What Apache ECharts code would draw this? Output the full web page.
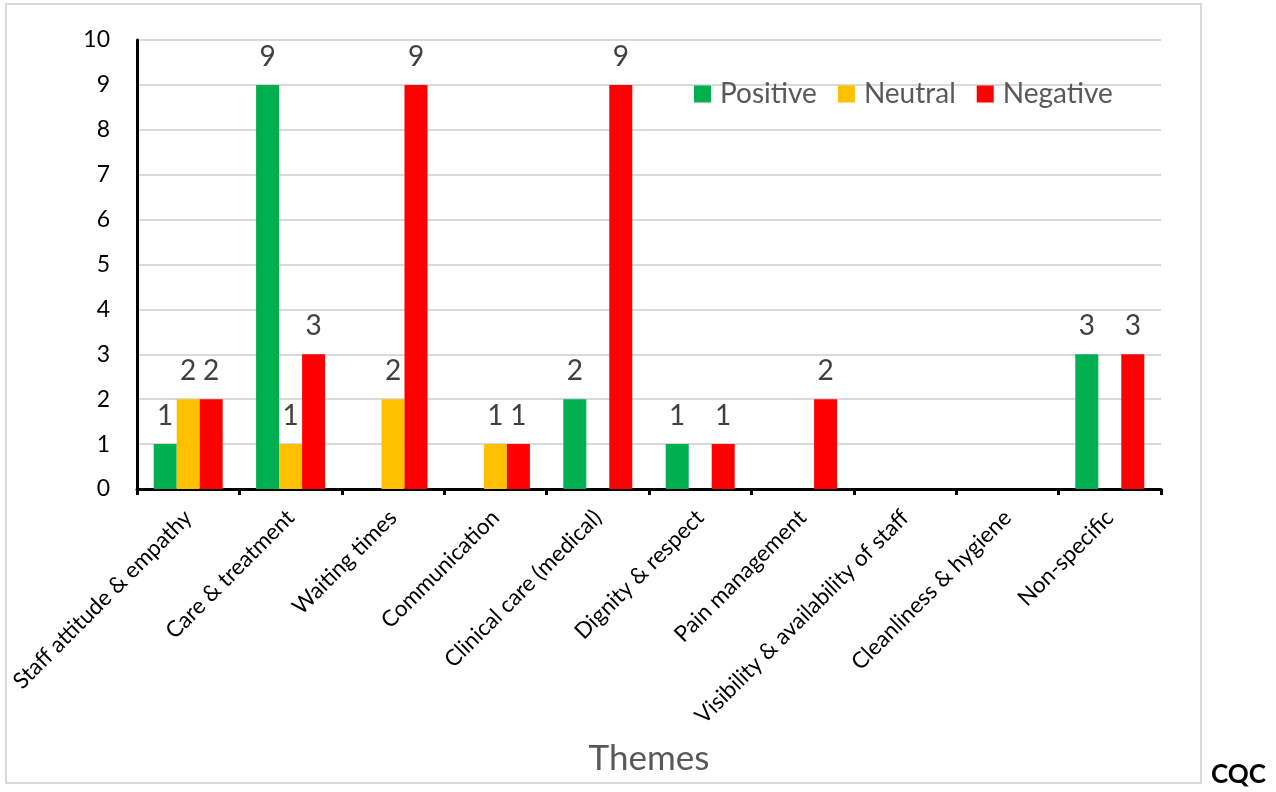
<!DOCTYPE html>
<html>
<head>
<meta charset="utf-8">
<title>Themes</title>
<script src="https://cdn.jsdelivr.net/npm/echarts@6/dist/echarts.min.js"></script>
<style>
  html, body { margin: 0; padding: 0; background: #fff; }
  #chart { width: 1276px; height: 792px; }
</style>
</head>
<body>
<div id="chart"></div>
<script>
// Theme categories and comment counts per sentiment
const categories = [
  'Staff attitude & empathy',
  'Care & treatment',
  'Waiting times',
  'Communication',
  'Clinical care (medical)',
  'Dignity & respect',
  'Pain management',
  'Visibility & availability of staff',
  'Cleanliness & hygiene',
  'Non-specific'
];
const positive = [1, 9, 0, 0, 2, 1, 0, 0, 0, 3];
const neutral  = [2, 1, 2, 1, 0, 0, 0, 0, 0, 0];
const negative = [2, 3, 9, 1, 9, 1, 2, 0, 0, 3];
const yTicks = [0, 1, 2, 3, 4, 5, 6, 7, 8, 9, 10];

const FONT = 'Lato, "Open Sans", sans-serif';

function barSeries(name, data, color) {
  return {
    name: name,
    type: 'bar',
    data: data,
    barWidth: 23,
    barGap: '0%',
    itemStyle: { color: color },
    label: {
      show: true,
      position: 'top',
      distance: 14,
      fontFamily: FONT,
      fontSize: 28,
      color: '#404040',
      formatter: p => (p.value > 0 ? String(p.value) : '')
    }
  };
}

const chart = echarts.init(document.getElementById('chart'), null, { renderer: 'canvas' });
chart.setOption({
  animation: false,
  backgroundColor: '#fff',
  textStyle: { fontFamily: FONT },
  grid: { left: 137, right: 115, top: 40, bottom: 303, containLabel: false },
  legend: {
    left: 689,
    top: 75,
    icon: 'rect',
    itemWidth: 17,
    itemHeight: 17,
    itemGap: 21,
    textStyle: { fontFamily: FONT, fontSize: 28, color: '#595959', padding: [0, 0, 0, 4] },
    data: ['Positive', 'Neutral', 'Negative']
  },
  xAxis: {
    type: 'category',
    data: categories,
    name: 'Themes',
    nameLocation: 'middle',
    nameGap: 252,
    nameTextStyle: { fontFamily: FONT, fontSize: 35, color: '#595959' },
    axisLine: { lineStyle: { color: '#000', width: 3 } },
    axisTick: { show: true, length: 6, lineStyle: { color: '#000', width: 3 } },
    axisLabel: {
      interval: 0,
      rotate: 45,
      margin: 25,
      fontFamily: FONT,
      fontSize: 22.5,
      color: '#000'
    }
  },
  yAxis: {
    type: 'value',
    min: yTicks[0],
    max: yTicks[yTicks.length - 1],
    interval: 1,
    axisLine: { show: true, lineStyle: { color: '#000', width: 3 } },
    axisTick: { show: false },
    axisLabel: {
      margin: 27,
      fontFamily: FONT,
      fontSize: 23,
      color: '#000',
      formatter: v => (yTicks.indexOf(v) >= 0 ? String(v) : '')
    },
    splitLine: { lineStyle: { color: '#d9d9d9', width: 2 } }
  },
  series: [
    barSeries('Positive', positive, '#00b050'),
    barSeries('Neutral', neutral, '#ffc000'),
    barSeries('Negative', negative, '#ff0000')
  ],
  graphic: [
    {
      type: 'rect',
      z: -1,
      shape: { x: 6, y: 4, width: 1195, height: 779 },
      style: { fill: 'none', stroke: '#d9d9d9', lineWidth: 2 }
    },
    {
      type: 'text',
      left: 1211,
      top: 762,
      style: { text: 'CQC', fontFamily: FONT, fontSize: 26, fontWeight: 'bold', fill: '#000' }
    }
  ]
});
</script>
</body>
</html>
